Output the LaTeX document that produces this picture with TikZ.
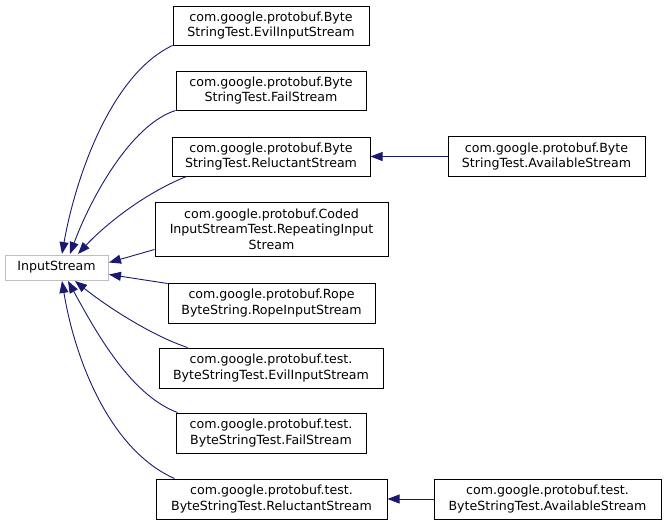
\documentclass[tikz,border=0pt]{standalone}
\usepackage{fontspec}
\setmainfont{DejaVu Sans}
\usetikzlibrary{arrows.meta}
\definecolor{edgeblue}{HTML}{191970}
\definecolor{boxgray}{HTML}{BFBFBF}
\tikzset{
  cls/.style={draw=black, line width=1pt, fill=white, inner sep=0pt, align=center,
    font=\fontsize{12.6}{15.3}\selectfont},
  base/.style={cls, draw=boxgray},
  inh/.style={draw=edgeblue, line width=0.9pt, -{Triangle[length=12pt,width=9pt]}},
}
\begin{document}
\begin{tikzpicture}[x=1pt,y=-1pt]
\useasboundingbox (0,0) rectangle (667,525);
\node[base, minimum width=103pt, minimum height=25pt] (in) at (56.5,267.5) {InputStream};
\node[cls, minimum width=196pt, minimum height=39pt] (bevil) at (271,25.5) {com.google.protobuf.Byte\\StringTest.EvilInputStream};
\node[cls, minimum width=190pt, minimum height=39pt] (bfail) at (271,90.5) {com.google.protobuf.Byte\\StringTest.FailStream};
\node[cls, minimum width=198pt, minimum height=39pt] (brel) at (271,156.5) {com.google.protobuf.Byte\\StringTest.ReluctantStream};
\node[cls, minimum width=233pt, minimum height=54pt] (coded) at (271.5,229) {com.google.protobuf.Coded\\InputStreamTest.RepeatingInput\\Stream};
\node[cls, minimum width=207pt, minimum height=40pt] (rope) at (271.5,303) {com.google.protobuf.Rope\\ByteString.RopeInputStream};
\node[cls, minimum width=224pt, minimum height=40pt] (tevil) at (271,368) {com.google.protobuf.test.\\ByteStringTest.EvilInputStream};
\node[cls, minimum width=190pt, minimum height=40pt] (tfail) at (271,433) {com.google.protobuf.test.\\ByteStringTest.FailStream};
\node[cls, minimum width=231pt, minimum height=40pt] (trel) at (271.5,499) {com.google.protobuf.test.\\ByteStringTest.ReluctantStream};
\node[cls, minimum width=197pt, minimum height=40pt] (bavail) at (546.5,156.5) {com.google.protobuf.Byte\\StringTest.AvailableStream};
\node[cls, minimum width=227pt, minimum height=40pt] (tavail) at (547.5,499) {com.google.protobuf.test.\\ByteStringTest.AvailableStream};
\coordinate (t1) at (62,254);
\coordinate (t2) at (70,254);
\coordinate (t3) at (78,254);
\coordinate (t4) at (109,262.5);
\coordinate (t5) at (109,274.5);
\coordinate (t6) at (75,281);
\coordinate (t7) at (68,281);
\coordinate (t8) at (62,281);
\draw[inh] (bevil.south west) .. controls (110,75) and (75,180) .. (t1);
\draw[inh] (bfail.south west) .. controls (130,125) and (90,200) .. (t2);
\draw[inh] ([xshift=15pt]brel.south west) .. controls (140,195) and (100,230) .. (t3);
\draw[inh] ([yshift=7pt]coded.south west) -- (t4);
\draw[inh] ([yshift=-1pt]rope.north west) -- (t5);
\draw[inh] ([xshift=29pt]tevil.north west) .. controls (150,335) and (105,305) .. (t6);
\draw[inh] ([xshift=2pt]tfail.north west) .. controls (130,395) and (95,330) .. (t7);
\draw[inh] ([xshift=19pt]trel.north west) .. controls (110,450) and (75,360) .. (t8);
\draw[inh] (bavail.west) -- (brel.east);
\draw[inh] (tavail.west) -- (trel.east);
\end{tikzpicture}
\end{document}
